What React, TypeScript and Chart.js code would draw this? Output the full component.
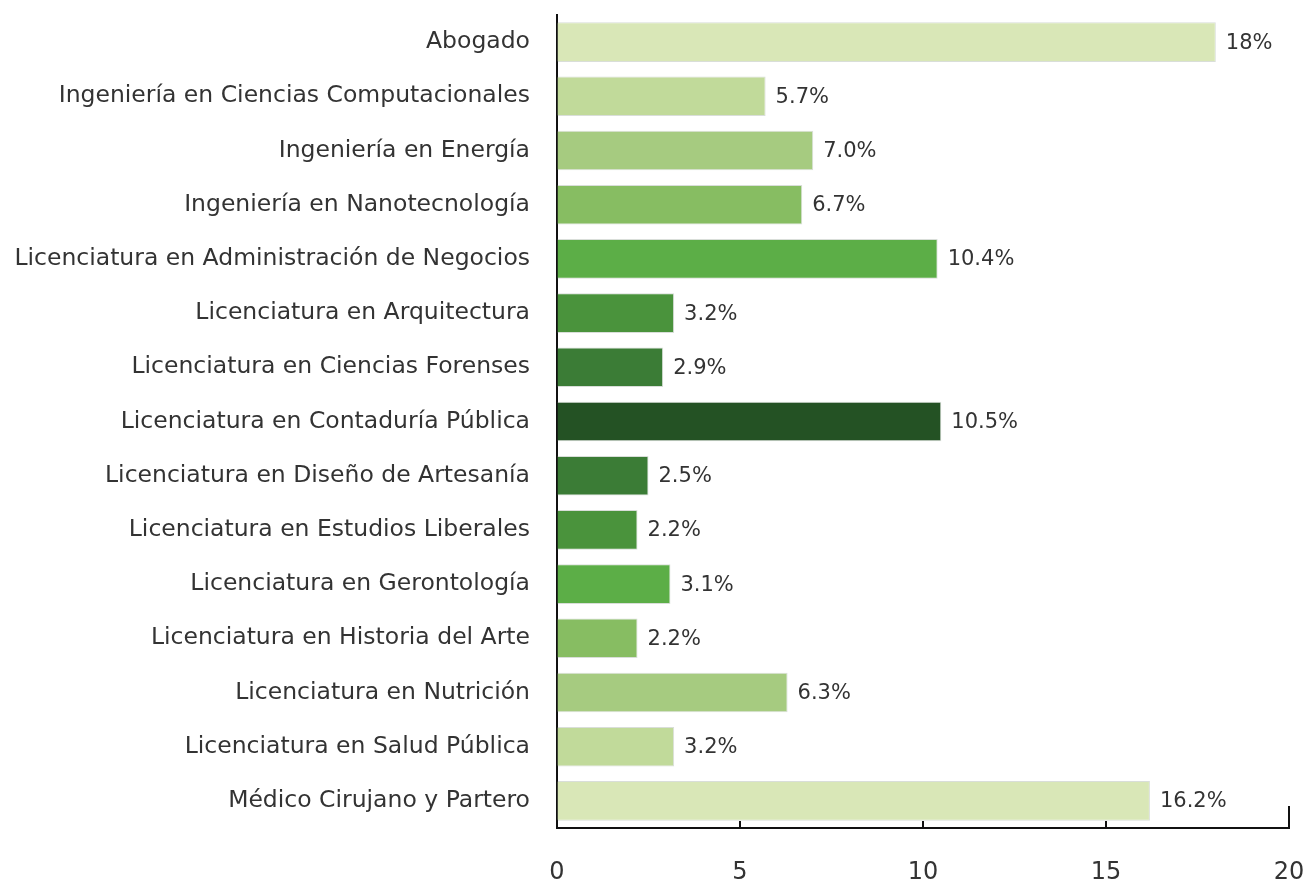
import React, { useEffect, useRef } from "react";
import { Chart, registerables } from "chart.js";

Chart.register(...registerables);

const categories: string[] = [
  "Abogado",
  "Ingeniería en Ciencias Computacionales",
  "Ingeniería en Energía",
  "Ingeniería en Nanotecnología",
  "Licenciatura en Administración de Negocios",
  "Licenciatura en Arquitectura",
  "Licenciatura en Ciencias Forenses",
  "Licenciatura en Contaduría Pública",
  "Licenciatura en Diseño de Artesanía",
  "Licenciatura en Estudios Liberales",
  "Licenciatura en Gerontología",
  "Licenciatura en Historia del Arte",
  "Licenciatura en Nutrición",
  "Licenciatura en Salud Pública",
  "Médico Cirujano y Partero",
];

const values: number[] = [18, 5.7, 7.0, 6.7, 10.4, 3.2, 2.9, 10.5, 2.5, 2.2, 3.1, 2.2, 6.3, 3.2, 16.2];

const valueLabels: string[] = [
  "18%", "5.7%", "7.0%", "6.7%", "10.4%", "3.2%", "2.9%", "10.5%",
  "2.5%", "2.2%", "3.1%", "2.2%", "6.3%", "3.2%", "16.2%",
];

const barColors: string[] = [
  "#d9e7b7", "#c1da9a", "#a6cb80", "#87bd62", "#5cae47", "#4a933c", "#3b7c36",
  "#245224", "#3b7c36", "#4a933c", "#5cae47", "#87bd62", "#a6cb80", "#c1da9a", "#d9e7b7",
];

const xTicks: number[] = [0, 5, 10, 15, 20];

const FONT = "'DejaVu Sans', sans-serif";
const TEXT = "#333333";

const tickMarksPlugin = {
  id: "tickMarks",
  afterDraw(chart: any) {
    const ctx = chart.ctx;
    const xs = chart.scales.x;
    const bottom = chart.chartArea.bottom;
    ctx.save();
    ctx.strokeStyle = "#111111";
    ctx.lineWidth = 2;
    xTicks.forEach((v, i) => {
      if (i === 0) return;
      const px = Math.round(xs.getPixelForValue(v));
      const len = i === xTicks.length - 1 ? 22 : 7;
      ctx.beginPath();
      ctx.moveTo(px, bottom);
      ctx.lineTo(px, bottom - len);
      ctx.stroke();
    });
    ctx.restore();
  },
};

const valueLabelPlugin = {
  id: "valueLabels",
  afterDatasetsDraw(chart: any) {
    const ctx = chart.ctx;
    const meta = chart.getDatasetMeta(0);
    ctx.save();
    ctx.font = `21px ${FONT}`;
    ctx.fillStyle = TEXT;
    ctx.textAlign = "left";
    ctx.textBaseline = "middle";
    meta.data.forEach((bar: any, i: number) => {
      ctx.fillText(valueLabels[i], bar.x + 10, bar.y + 1);
    });
    ctx.restore();
  },
};

export default function App() {
  const ref = useRef<HTMLCanvasElement | null>(null);

  useEffect(() => {
    if (!ref.current) return;
    const chart = new Chart(ref.current, {
      type: "bar",
      data: {
        labels: categories,
        datasets: [
          {
            data: values,
            backgroundColor: barColors,
            borderColor: "rgba(185,195,185,0.55)",
            borderWidth: 1,
            barPercentage: 0.73,
            categoryPercentage: 1,
          },
        ],
      },
      options: {
        indexAxis: "y",
        animation: false,
        responsive: false,
        maintainAspectRatio: false,
        layout: { padding: { top: 15, right: 19, left: 0, bottom: 0 } },
        plugins: {
          legend: { display: false },
          tooltip: { enabled: false },
        },
        scales: {
          x: {
            min: 0,
            max: 20,
            afterFit: (s: any) => {
              s.height = 53;
            },
            afterBuildTicks: (s: any) => {
              s.ticks = xTicks.map((v) => ({ value: v }));
            },
            grid: {
              display: true,
              drawOnChartArea: false,
              drawTicks: true,
              tickLength: 30,
              color: "rgba(0,0,0,0)",
            },
            border: { display: true, color: "#111111", width: 2 },
            ticks: {
              padding: 0,
              color: TEXT,
              font: { family: FONT, size: 24 },
              maxRotation: 0,
            },
          },
          y: {
            afterFit: (s: any) => {
              s.width = 557;
            },
            grid: {
              display: true,
              drawOnChartArea: false,
              drawTicks: true,
              tickLength: 27,
              color: "rgba(0,0,0,0)",
            },
            border: { display: true, color: "#111111", width: 2 },
            ticks: {
              padding: 0,
              color: TEXT,
              font: { family: FONT, size: 23.5 },
              autoSkip: false,
            },
          },
        },
      },
      plugins: [tickMarksPlugin, valueLabelPlugin],
    });
    return () => chart.destroy();
  }, []);

  return (
    <div style={{ position: "fixed", left: 0, top: 0, width: 1308, height: 881, background: "#ffffff" }}>
      <canvas ref={ref} width={1308} height={881} style={{ display: "block" }} />
    </div>
  );
}
